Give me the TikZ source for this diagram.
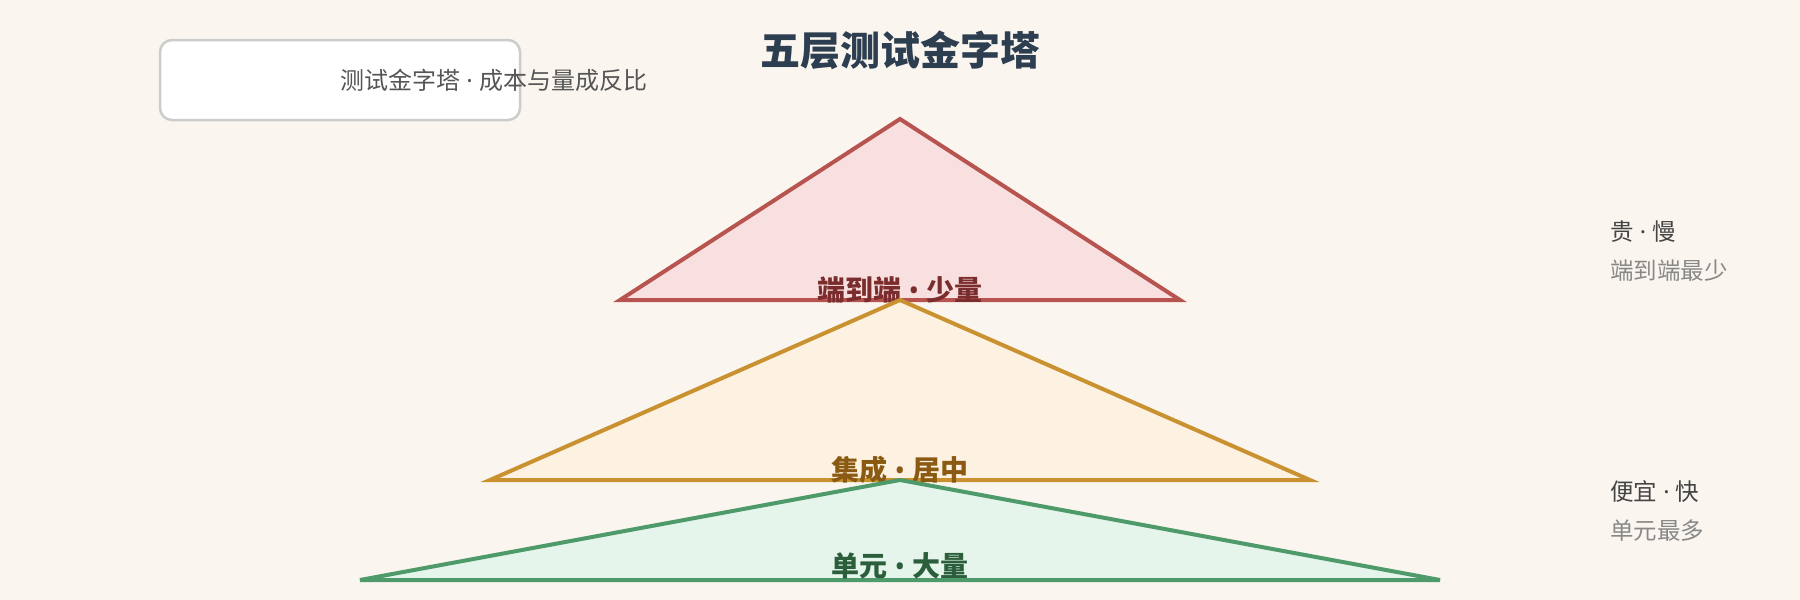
\documentclass[tikz,border=0pt]{standalone}
\usepackage{fontspec}
\setmainfont{Noto Sans CJK SC}
\newfontfamily\latinfont{Noto Sans}
\usepackage{xcolor}

\definecolor{bgcol}{HTML}{FAF6EF}
\definecolor{titlecol}{HTML}{2C3E50}
\definecolor{framecol}{HTML}{CCCCCC}
\definecolor{legendcol}{HTML}{555555}
\definecolor{redline}{HTML}{B85450}
\definecolor{redfill}{HTML}{F8DFE0}
\definecolor{redtext}{HTML}{7B2D2D}
\definecolor{orangeline}{HTML}{C9912F}
\definecolor{orangefill}{HTML}{FDF2E1}
\definecolor{orangetext}{HTML}{8A5A12}
\definecolor{greenline}{HTML}{4E9A6A}
\definecolor{greenfill}{HTML}{E5F5EB}
\definecolor{greentext}{HTML}{2B5E3B}
\definecolor{headcol}{HTML}{444444}
\definecolor{notecol}{HTML}{888888}

% narrow separators from a Latin font
\newcommand{\mdot}{{\latinfont\ ·\ }}
\newcommand{\bdot}{{\latinfont\ •\ }}

\tikzset{
  titletext/.style = {font=\fontsize{40}{46}\selectfont\bfseries, text=titlecol},
  legendframe/.style = {draw=framecol, fill=white, line width=2.5pt, rounded corners=12pt,
    minimum width=360pt, minimum height=80pt},
  legendtext/.style = {font=\fontsize{24}{28}\selectfont, text=legendcol, inner sep=0pt},
  tierlabel/.style = {font=\fontsize{28}{32}\selectfont\bfseries},
  sidehead/.style = {font=\fontsize{23.5}{28}\selectfont, text=headcol, inner sep=0pt},
  sidenote/.style = {font=\fontsize{23.5}{28}\selectfont, text=notecol, inner sep=0pt}
}

\begin{document}
\begin{tikzpicture}[x=1pt, y=-1pt]
	\def\mid{900};

	\fill[bgcol] (0,0) rectangle (1800,600);
	\useasboundingbox (0,0) rectangle (1800,600);

	\node [titletext] (title) at (\mid,50) {五层测试金字塔};

	\begin{scope}
		\node [legendframe] (frame) at (340,80) {};
		\node [legendtext, anchor=west] (legend) at (frame.center) {测试金字塔\mdot 成本与量成反比};
	\end{scope}

	\begin{scope}[line width=4pt]
		\filldraw [draw=redline, fill=redfill] (\mid,119) -- (620,300) -- (1180,300) -- cycle;
		\node [tierlabel, text=redtext] (toplabel) at (\mid,290) {端到端\bdot 少量};

		\filldraw [draw=orangeline, fill=orangefill] (\mid,300) -- (490,480) -- (1310,480) -- cycle;
		\node [tierlabel, text=orangetext] (midlabel) at (\mid,470) {集成\bdot 居中};

		\filldraw [draw=greenline, fill=greenfill] (\mid,480) -- (360,580) -- (1440,580) -- cycle;
		\node [tierlabel, text=greentext] (baselabel) at (\mid,566) {单元\bdot 大量};
	\end{scope}

	\begin{scope}
		\node [sidehead, anchor=west] (slow) at (1610,232) {贵\mdot 慢};
		\node [sidenote, anchor=west] (fewest) at (1610,271) {端到端最少};
		\node [sidehead, anchor=west] (fast) at (1610,492) {便宜\mdot 快};
		\node [sidenote, anchor=west] (most) at (1610,531) {单元最多};
	\end{scope}
\end{tikzpicture}
\end{document}
